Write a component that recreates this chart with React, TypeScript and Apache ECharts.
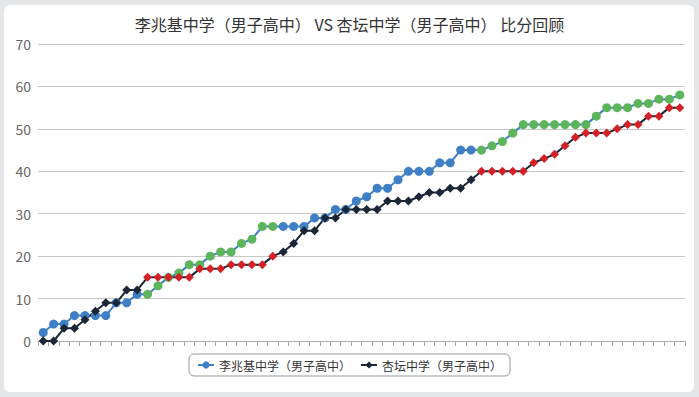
import React, { useEffect, useRef } from "react";
import * as echarts from "echarts";

const titleText = "李兆基中学（男子高中） VS 杏坛中学（男子高中） 比分回顾";
const seriesNames = ["李兆基中学（男子高中）", "杏坛中学（男子高中）"];

const categories = [
  "1", "2", "3", "4", "5", "6", "7", "8", "9", "10",
  "11", "12", "13", "14", "15", "16", "17", "18", "19", "20",
  "21", "22", "23", "24", "25", "26", "27", "28", "29", "30",
  "31", "32", "33", "34", "35", "36", "37", "38", "39", "40",
  "41", "42", "43", "44", "45", "46", "47", "48", "49", "50",
  "51", "52", "53", "54", "55", "56", "57", "58", "59", "60",
  "61", "62",
];

const lizhaojiScores = [
  2, 4, 4, 6, 6, 6, 6, 9, 9, 11,
  11, 13, 15, 16, 18, 18, 20, 21, 21, 23,
  24, 27, 27, 27, 27, 27, 29, 29, 31, 31,
  33, 34, 36, 36, 38, 40, 40, 40, 42, 42,
  45, 45, 45, 46, 47, 49, 51, 51, 51, 51,
  51, 51, 51, 53, 55, 55, 55, 56, 56, 57,
  57, 58,
];

const xingtanScores = [
  0, 0, 3, 3, 5, 7, 9, 9, 12, 12,
  15, 15, 15, 15, 15, 17, 17, 17, 18, 18,
  18, 18, 20, 21, 23, 26, 26, 29, 29, 31,
  31, 31, 31, 33, 33, 33, 34, 35, 35, 36,
  36, 38, 40, 40, 40, 40, 40, 42, 43, 44,
  46, 48, 49, 49, 49, 50, 51, 51, 53, 53,
  55, 55,
];

// index ranges (inclusive) where markers are highlighted
const highlightRanges: [number, number][] = [
  [10, 22],
  [42, 61],
];

const yTicks = { min: 0, max: 70, interval: 10 };

const BLUE = "#3f7fc5";
const GREEN = "#5cb55a";
const NAVY = "#1b2636";
const RED = "#d42128";

const inHighlight = (i: number) =>
  highlightRanges.some(([a, b]) => i >= a && i <= b);

export default function App() {
  const ref = useRef<HTMLDivElement>(null);

  useEffect(() => {
    if (!ref.current) return;
    const chart = echarts.init(ref.current, undefined, { renderer: "svg" });
    const font = "'Noto Sans CJK SC', 'Noto Sans', sans-serif";
    chart.setOption({
      animation: false,
      textStyle: { fontFamily: font },
      title: {
        text: titleText,
        left: "center",
        top: 11,
        textStyle: {
          fontSize: 16,
          fontWeight: "normal",
          color: "#333",
          fontFamily: font,
        },
      },
      legend: {
        bottom: 21,
        left: "center",
        data: seriesNames,
        itemWidth: 16,
        itemHeight: 9,
        itemGap: 9,
        padding: [5, 8],
        borderColor: "#999",
        borderWidth: 1,
        borderRadius: 5,
        textStyle: { fontSize: 12, color: "#333", fontFamily: font },
      },
      grid: { left: 38, right: 14, top: 44, bottom: 56 },
      xAxis: {
        type: "category",
        data: categories,
        boundaryGap: true,
        axisLabel: { show: false },
        axisTick: {
          show: true,
          interval: 0,
          length: 5,
          lineStyle: { color: "#aaa" },
        },
        axisLine: { lineStyle: { color: "#aaa" } },
      },
      yAxis: {
        type: "value",
        min: yTicks.min,
        max: yTicks.max,
        interval: yTicks.interval,
        axisLine: { show: false },
        axisTick: { show: false },
        axisLabel: { color: "#666", fontSize: 14, margin: 7, fontFamily: font },
        splitLine: { lineStyle: { color: "#c8c8c8" } },
      },
      series: [
        {
          name: seriesNames[0],
          type: "line",
          symbol: "circle",
          symbolSize: 9,
          showSymbol: true,
          showAllSymbol: true,
          itemStyle: { color: BLUE },
          lineStyle: { color: BLUE, width: 2 },
          emphasis: { disabled: true },
          data: lizhaojiScores.map((v, i) => ({
            value: v,
            itemStyle: { color: inHighlight(i) ? GREEN : BLUE },
          })),
        },
        {
          name: seriesNames[1],
          type: "line",
          symbol: "diamond",
          symbolSize: 9,
          showSymbol: true,
          showAllSymbol: true,
          itemStyle: { color: NAVY },
          lineStyle: { color: NAVY, width: 2 },
          emphasis: { disabled: true },
          data: xingtanScores.map((v, i) => ({
            value: v,
            itemStyle: { color: inHighlight(i) ? RED : NAVY },
          })),
        },
      ],
    });
    return () => chart.dispose();
  }, []);

  return (
    <div
      style={{
        position: "fixed",
        left: 0,
        top: 0,
        width: 699,
        height: 397,
        background: "#e5e6e8",
      }}
    >
      <div
        style={{
          position: "absolute",
          left: 4,
          top: 5,
          width: 690,
          height: 387,
          background: "#ffffff",
          borderRadius: 6,
        }}
      />
      <div
        ref={ref}
        style={{ position: "absolute", left: 0, top: 0, width: 699, height: 397 }}
      />
    </div>
  );
}
